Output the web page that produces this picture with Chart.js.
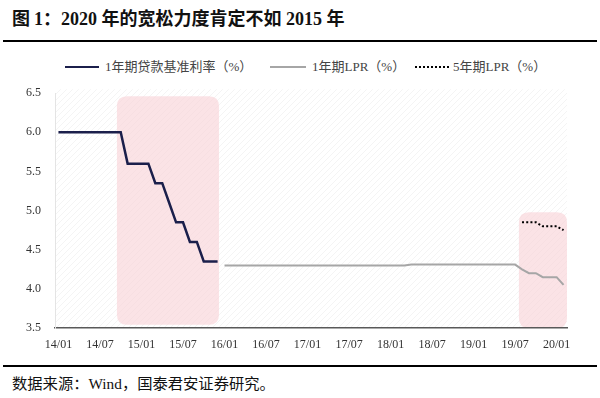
<!DOCTYPE html>
<html>
<head>
<meta charset="utf-8">
<script src="https://cdn.jsdelivr.net/npm/chart.js@4/dist/chart.umd.min.js"></script>
<style>
  html, body { margin: 0; padding: 0; background: #fff; }
  body { width: 600px; height: 398px; position: relative; overflow: hidden; }
  .title { position: absolute; left: 12px; top: 4px; font-family: "Liberation Serif", "Noto Sans CJK SC", serif; font-weight: bold; font-size: 18px; color: #111; white-space: nowrap; }
  .title .cjk { font-family: "Noto Sans CJK SC", sans-serif; }
  .rule { position: absolute; left: 3px; width: 594px; background: #000; }
  .legend-item { position: absolute; top: 59px; height: 16px; font-family: "Liberation Serif", "Noto Sans CJK SC", serif; font-size: 13px; color: #444; white-space: nowrap; line-height: 16px; }
  .legend-item .swatch { display: inline-block; vertical-align: middle; width: 34px; height: 0; margin-right: 6px; position: relative; top: -1px; }
  .source { position: absolute; left: 12px; top: 371px; font-family: "Liberation Serif", "Noto Sans CJK SC", serif; font-size: 15.3px; color: #111; white-space: nowrap; }
  .source .cjk { font-family: "Noto Sans CJK SC", sans-serif; }
  #wrap { position: absolute; left: 0; top: 72px; width: 600px; height: 280px; }
</style>
</head>
<body>
<div class="title"><span class="cjk">图 </span>1<span class="cjk">：</span>2020 <span class="cjk">年的宽松力度肯定不如</span> 2015 <span class="cjk">年</span></div>
<div class="rule" style="top:40px;height:2px;"></div>

<div class="legend-item" style="left:65px;"><span class="swatch" style="border-top:2.5px solid #1b1f4b;"></span>1年期贷款基准利率（%）</div>
<div class="legend-item" style="left:270px;"><span class="swatch" style="border-top:2px solid #a6a6a6;width:36px;"></span>1年期LPR（%）</div>
<div class="legend-item" style="left:415px;"><span class="swatch" style="border-top:2px dotted #000;width:34px;margin-right:4px;"></span>5年期LPR（%）</div>

<div id="wrap"><canvas id="c"></canvas></div>

<div class="rule" style="top:365px;height:1.5px;"></div>
<div class="source"><span class="cjk">数据来源：</span>Wind<span class="cjk">，国泰君安证券研究。</span></div>

<script>
// Categories: monthly, 2014/01 .. 2020/02
const months = [
  "14/01","14/02","14/03","14/04","14/05","14/06","14/07","14/08","14/09","14/10","14/11","14/12",
  "15/01","15/02","15/03","15/04","15/05","15/06","15/07","15/08","15/09","15/10","15/11","15/12",
  "16/01","16/02","16/03","16/04","16/05","16/06","16/07","16/08","16/09","16/10","16/11","16/12",
  "17/01","17/02","17/03","17/04","17/05","17/06","17/07","17/08","17/09","17/10","17/11","17/12",
  "18/01","18/02","18/03","18/04","18/05","18/06","18/07","18/08","18/09","18/10","18/11","18/12",
  "19/01","19/02","19/03","19/04","19/05","19/06","19/07","19/08","19/09","19/10","19/11","19/12",
  "20/01","20/02"
];

// 1年期贷款基准利率 (14/01 .. 15/12)
const benchmarkRate = [
  6.00,6.00,6.00,6.00,6.00,6.00,6.00,6.00,6.00,6.00,5.60,5.60,
  5.60,5.60,5.35,5.35,5.10,4.85,4.85,4.60,4.60,4.35,4.35,4.35
];

// 1年期LPR (16/01 .. 20/02)
const lpr1y = [
  4.30,4.30,4.30,4.30,4.30,4.30,4.30,4.30,4.30,4.30,4.30,4.30,
  4.30,4.30,4.30,4.30,4.30,4.30,4.30,4.30,4.30,4.30,4.30,4.30,
  4.30,4.30,4.30,4.31,4.31,4.31,4.31,4.31,4.31,4.31,4.31,4.31,
  4.31,4.31,4.31,4.31,4.31,4.31,4.31,4.25,4.20,4.20,4.15,4.15,
  4.15,4.05
];

// 5年期LPR (19/08 .. 20/02)
const lpr5y = [4.85,4.85,4.85,4.80,4.80,4.80,4.75];

// Highlighted easing periods (category index span, value span)
const highlightFrom   = [8.45, 66.55];
const highlightTo     = [23.2, 73.5];
const highlightTop    = [6.46, 4.98];
const highlightBottom = [3.54, 3.5];

const yTicks = [3.5, 4.0, 4.5, 5.0, 5.5, 6.0, 6.5];

// Align series onto the month categories
function place(values, startLabel) {
  const out = new Array(months.length).fill(null);
  const s = months.indexOf(startLabel);
  values.forEach((v, i) => { out[s + i] = v; });
  return out;
}

function makeHatch(ctx) {
  const p = document.createElement('canvas');
  p.width = 6; p.height = 6;
  const g = p.getContext('2d');
  g.strokeStyle = 'rgba(0,0,0,0.045)';
  g.lineWidth = 1;
  g.beginPath();
  g.moveTo(0, 6); g.lineTo(6, 0);
  g.moveTo(-1, 1); g.lineTo(1, -1);
  g.moveTo(5, 7); g.lineTo(7, 5);
  g.stroke();
  return ctx.createPattern(p, 'repeat');
}

function roundRect(ctx, x, y, w, h, r) {
  ctx.beginPath();
  ctx.moveTo(x + r, y);
  ctx.lineTo(x + w - r, y);
  ctx.quadraticCurveTo(x + w, y, x + w, y + r);
  ctx.lineTo(x + w, y + h - r);
  ctx.quadraticCurveTo(x + w, y + h, x + w - r, y + h);
  ctx.lineTo(x + r, y + h);
  ctx.quadraticCurveTo(x, y + h, x, y + h - r);
  ctx.lineTo(x, y + r);
  ctx.quadraticCurveTo(x, y, x + r, y);
  ctx.closePath();
}

const bgPlugin = {
  id: 'bg',
  beforeDraw(chart) {
    const { ctx, chartArea: a, scales } = chart;
    ctx.save();
    ctx.fillStyle = makeHatch(ctx);
    ctx.fillRect(a.left, a.top - 4, a.right - a.left, a.bottom - a.top + 4);
    const xs = scales.x, ys = scales.y;
    const step = xs.getPixelForValue(1) - xs.getPixelForValue(0);
    for (let i = 0; i < highlightFrom.length; i++) {
      const x0 = xs.getPixelForValue(0) + highlightFrom[i] * step;
      const x1 = xs.getPixelForValue(0) + highlightTo[i] * step;
      const y0 = ys.getPixelForValue(highlightTop[i]);
      const y1 = ys.getPixelForValue(highlightBottom[i]);
      roundRect(ctx, x0, y0, x1 - x0, y1 - y0, 10);
      ctx.fillStyle = 'rgba(249,208,213,0.6)';
      ctx.fill();
    }
    ctx.restore();
  }
};

new Chart(document.getElementById('c'), {
  type: 'line',
  data: {
    labels: months,
    datasets: [
      { label: '1年期贷款基准利率（%）', data: place(benchmarkRate, '14/01'), borderColor: '#1b1f4b', borderWidth: 2.5, pointRadius: 0, tension: 0, spanGaps: false },
      { label: '1年期LPR（%）', data: place(lpr1y, '16/01'), borderColor: '#a6a6a6', borderWidth: 2, pointRadius: 0, tension: 0, spanGaps: false },
      { label: '5年期LPR（%）', data: place(lpr5y, '19/08'), borderColor: '#000', borderWidth: 2, borderDash: [2, 2.2], pointRadius: 0, tension: 0, spanGaps: false }
    ]
  },
  options: {
    responsive: true,
    maintainAspectRatio: false,
    animation: false,
    events: [],
    layout: { padding: { top: 4, right: 33, left: 0, bottom: 0 } },
    plugins: { legend: { display: false }, tooltip: { enabled: false } },
    scales: {
      x: {
        type: 'category',
        offset: true,
        grid: { display: false, drawTicks: false },
        border: { display: true, color: '#595959', width: 1.5 },
        ticks: {
          autoSkip: false, maxRotation: 0, minRotation: 0, padding: 10,
          color: '#333', font: { family: 'Liberation Serif', size: 12 },
          callback: (v, i) => (i % 6 === 0 ? months[i] : '')
        },
        afterFit: (s) => { s.height = 24; }
      },
      y: {
        min: 3.5, max: 6.5,
        afterBuildTicks: (s) => { s.ticks = yTicks.map(v => ({ value: v })); },
        grid: { display: false, drawTicks: false },
        border: { display: true, color: '#e4e4e4', width: 1 },
        ticks: {
          padding: 14, color: '#333', font: { family: 'Liberation Serif', size: 12 },
          callback: (v) => Number(v).toFixed(1)
        },
        afterFit: (s) => { s.width = 55; }
      }
    }
  },
  plugins: [bgPlugin]
});
</script>
</body>
</html>
